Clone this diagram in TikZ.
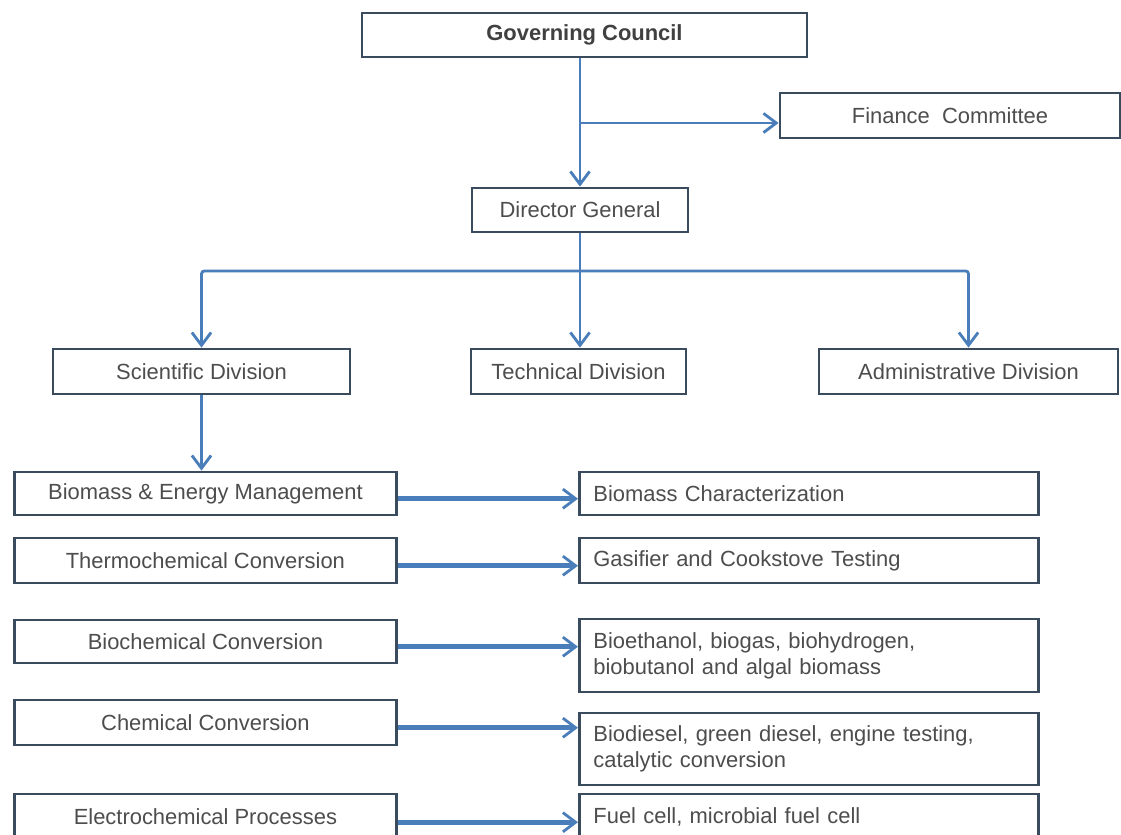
\documentclass[tikz,border=0pt]{standalone}
\usepackage{fontspec}
\setmainfont{Liberation Sans}
\usetikzlibrary{arrows.meta}
\definecolor{boxline}{HTML}{3B4B5E}
\definecolor{arrowblue}{HTML}{4A7EBB}
\definecolor{textgray}{HTML}{4D4D4D}

\begin{document}
\begin{tikzpicture}[
		box/.style={draw=boxline, line width=2pt, fill=white, text=textgray, align=center, inner sep=0pt,
			font=\fontsize{15.6}{18.7}\selectfont},
		rbox/.style={box, anchor=west, align=left, text width=10.775cm, inner xsep=0.35cm},
		arr/.style={draw=arrowblue, line width=2pt, -{Straight Barb[length=0.32cm, width=0.48cm, line width=2pt]}},
		harr/.style={arr, line width=3.6pt}
	]
		\useasboundingbox[fill=white] (0,0) rectangle (28.025,-20.875);

		% Bloki
		\node[box, text=black!75, font=\fontsize{15.6}{18.7}\selectfont\bfseries, minimum width=11.125cm, minimum height=1.1cm] (GC) at (14.6125,-0.875) {Governing Council};
		\node[box, minimum width=8.5cm, minimum height=1.125cm] (FC) at (23.75,-2.8875) {Finance\ \ Committee};
		\node[box, minimum width=5.4cm, minimum height=1.1cm] (DG) at (14.5,-5.25) {Director General};
		\node[box, minimum width=7.425cm, minimum height=1.125cm] (SD) at (5.0375,-9.2875) {Scientific Division};
		\node[box, minimum width=5.375cm, minimum height=1.125cm] (TD) at (14.4625,-9.2875) {Technical Division};
		\node[box, minimum width=7.475cm, minimum height=1.125cm] (AD) at (24.2125,-9.2875) {Administrative Division};

		\node[box, anchor=west, minimum width=9.55cm, minimum height=1.075cm] (L1) at (0.325,-12.3375) {Biomass \& Energy Management};
		\node[box, anchor=west, minimum width=9.55cm, minimum height=1.125cm] (L2) at (0.325,-14.0125) {Thermochemical Conversion};
		\node[box, anchor=west, minimum width=9.55cm, minimum height=1.075cm] (L3) at (0.325,-16.0375) {Biochemical Conversion};
		\node[box, anchor=west, minimum width=9.55cm, minimum height=1.125cm] (L4) at (0.325,-18.0625) {Chemical Conversion};
		\node[box, anchor=west, minimum width=9.55cm, minimum height=1.15cm] (L5) at (0.325,-20.425) {Electrochemical Processes};

		\node[rbox, minimum height=1.075cm] (R1) at (14.45,-12.3375) {Biomass Characterization};
		\node[rbox, minimum height=1.125cm] (R2) at (14.45,-14.0125) {Gasifier and Cookstove Testing};
		\node[rbox, minimum height=1.825cm] (R3) at (14.45,-16.3875) {Bioethanol, biogas, biohydrogen,\\biobutanol and algal biomass};
		\node[rbox, minimum height=1.8cm] (R4) at (14.45,-18.725) {Biodiesel, green diesel, engine testing,\\catalytic conversion};
		\node[rbox, minimum height=1.15cm] (R5) at (14.45,-20.425) {Fuel cell, microbial fuel cell};

		% Strzalki
		\draw[arr] (GC.south -| DG.north) -- (DG.north);
		\coordinate (J1) at (DG.north |- 0,-3.075);
		\draw[arr] (J1) -- (J1 -| FC.west);
		\coordinate (J2) at (DG.south |- 0,-6.775);
		\draw[arr] (DG.south) -- (DG.south |- TD.north);
		\draw[arr, rounded corners=2pt] (J2) -| (SD.north);
		\draw[arr, rounded corners=2pt] (J2) -| (AD.north);
		\draw[arr] (SD.south) -- (SD.south |- L1.north);
		\foreach \i in {1,...,5}
			\draw[harr] ([yshift=-0.13cm]L\i.east) -- ([yshift=-0.13cm]L\i.east -| R\i.west);

	\end{tikzpicture}
\end{document}
